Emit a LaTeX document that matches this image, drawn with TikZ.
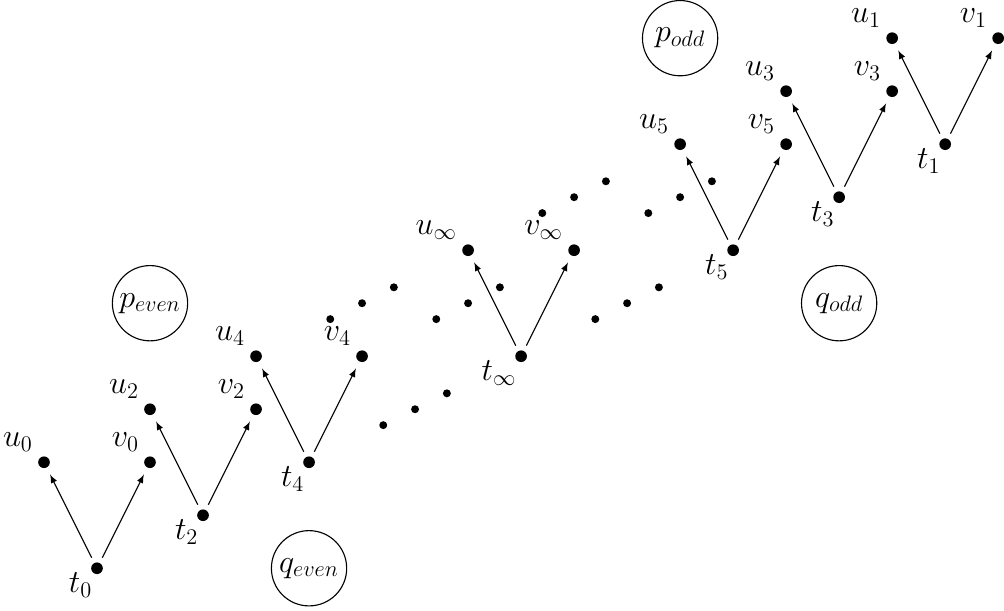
\documentclass[tikz,border=0pt]{standalone}
\usepackage{amsmath}
\usepackage{amssymb}
\usetikzlibrary{positioning}

\begin{document}
\begin{tikzpicture}
[
pointnode/.style={circle, fill, inner sep=0, minimum size=0.22cm},
tinynode/.style={circle, fill, inner sep=0, minimum size=0.15cm},
setnode/.style={circle, draw, semithick, inner sep=0, minimum size=1.42cm},
tlabel/.style={label={[label distance=-0.17cm]below left:#1}},
ulabel/.style={label={above left:#1}},
every label/.style={font=\LARGE, inner sep=0.12cm},
font=\LARGE,
on grid,
node distance=1cm
]
\useasboundingbox (-1.83,-0.79) rectangle (17.11,10.72);

\node[pointnode, tlabel=$t_0$]      (t0)                              {};
\node[pointnode, tlabel=$t_2$]      (t2)   [above right=1cm and 2cm of t0]   {};
\node[pointnode, tlabel=$t_4$]      (t4)   [above right=1cm and 2cm of t2]   {};
\node[pointnode, tlabel=$t_\infty$] (tinf) [above right=2cm and 4cm of t4]   {};
\node[pointnode, tlabel=$t_5$]      (t5)   [above right=2cm and 4cm of tinf] {};
\node[pointnode, tlabel=$t_3$]      (t3)   [above right=1cm and 2cm of t5]   {};
\node[pointnode, tlabel=$t_1$]      (t1)   [above right=1cm and 2cm of t3]   {};

\foreach \n/\s in {0/0,2/2,4/4,inf/\infty,5/5,3/3,1/1}
{
\node[pointnode, ulabel=$u_{\s}$] (u\n) [above left=2cm and 1cm of t\n]  {};
\node[pointnode, ulabel=$v_{\s}$] (v\n) [above right=2cm and 1cm of t\n] {};
\draw[semithick, -latex, shorten <=3pt, shorten >=4pt] (t\n) to (u\n);
\draw[semithick, -latex, shorten <=3pt, shorten >=4pt] (t\n) to (v\n);
}

% the dotted gaps
\foreach \x/\y [count=\g] in {5/5,7/5,6/3,9/7,11/7,10/5}
  \foreach \k in {-1,0,1}
    \node[tinynode] (d\g\k) at (\x+0.6*\k,\y+0.3*\k) {};

\node[setnode] (peven) [above right=5cm and 1cm of t0] {$p_{even}$};
\node[setnode] (qeven) [right=4cm of t0]               {$q_{even}$};
\node[setnode] (podd)  [above=2cm of u5]               {$p_{odd}$};
\node[setnode] (qodd)  [below=2cm of t3]               {$q_{odd}$};
\end{tikzpicture}
\end{document}
